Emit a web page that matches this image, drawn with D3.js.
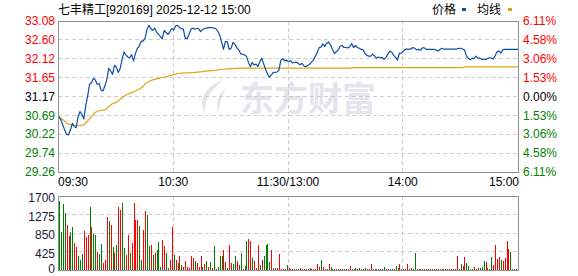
<!DOCTYPE html>
<html><head><meta charset="utf-8">
<script src="https://cdn.jsdelivr.net/npm/d3@7"></script>
<style>body{margin:0;background:#fff;}svg{display:block}</style>
</head><body><svg id="c" width="578" height="276"></svg>
<script>
const titleText = "七丰精工[920169] 2025-12-12 15:00";
const legendNames = ["价格", "均线"];
const watermarkText = "东方财富";
const preClose = 31.17;
const priceTicks = ["33.08","32.60","32.12","31.65","31.17","30.69","30.22","29.74","29.26"];
const pctTicks = ["6.11%","4.58%","3.06%","1.53%","0.00%","1.53%","3.06%","4.58%","6.11%"];
const volTicks = [1700, 1275, 850, 425, 0];
const timeLabels = ["09:30", "10:30", "11:30/13:00", "14:00", "15:00"];
const timeIdx = [0, 60, 120, 180, 240];

const prices = [
30.66,30.58,30.45,30.32,30.21,30.20,30.32,30.49,30.41,30.38,
30.66,30.79,30.72,30.60,30.94,31.18,31.48,31.52,31.63,31.59,
31.48,31.50,31.33,31.31,31.44,31.59,31.88,31.82,31.73,31.96,
31.91,31.78,31.88,32.11,32.30,32.22,32.17,32.15,32.23,32.07,
32.26,32.39,32.45,32.57,32.57,32.64,32.86,32.97,32.89,32.84,
32.90,32.80,32.74,32.69,32.63,32.84,32.79,32.74,32.81,32.89,
32.85,32.96,32.97,32.92,32.88,32.88,32.64,32.64,32.74,32.87,
32.90,32.87,32.89,32.89,32.81,32.86,32.89,32.90,32.91,32.91,
32.91,32.90,32.89,32.82,32.73,32.56,32.36,32.56,32.56,32.36,
32.39,32.54,32.49,32.40,32.35,32.25,32.24,32.22,32.19,32.04,
31.92,32.03,31.97,31.99,31.93,32.05,32.14,32.00,31.86,31.74,
31.66,31.71,31.78,31.78,31.79,31.84,32.09,32.13,32.07,32.09,
32.05,32.08,32.02,32.03,32.04,32.01,31.97,32.01,31.95,31.92,
31.96,31.98,32.04,32.09,32.19,32.28,32.41,32.42,32.50,32.44,
32.52,32.55,32.47,32.36,32.26,32.30,32.35,32.44,32.46,32.41,
32.41,32.40,32.43,32.51,32.41,32.46,32.41,32.39,32.36,32.35,
32.26,32.21,32.19,32.19,32.24,32.19,32.14,32.17,32.15,32.16,
32.11,32.16,32.25,32.32,32.29,32.21,32.16,32.09,32.27,32.26,
32.31,32.36,32.37,32.37,32.37,32.41,32.39,32.35,32.36,32.34,
32.40,32.40,32.36,32.36,32.36,32.36,32.36,32.35,32.32,32.35,
32.39,32.37,32.37,32.37,32.37,32.37,32.37,32.37,32.37,32.39,
32.39,32.37,32.35,32.20,32.13,32.10,32.14,32.13,32.19,32.14,
32.14,32.11,32.12,32.10,32.13,32.15,32.14,32.12,32.20,32.30,
32.32,32.27,32.35,32.36,32.36,32.36,32.36,32.36,32.36,32.36,
32.36];

const avgIdx  = [0,5,10,13,16,19,21,24,26,28,30,31,33,35,37,40,42,44,45,47,49,52,54,56,59,61,64,68,71,75,78,82,85,89,92,96,153,154,211,212,239,240];
const avgVals = [30.66,30.47,30.43,30.45,30.60,30.77,30.81,30.83,30.91,30.99,31.02,31.06,31.14,31.21,31.25,31.31,31.36,31.42,31.49,31.55,31.59,31.63,31.65,31.67,31.71,31.74,31.76,31.77,31.78,31.80,31.82,31.83,31.86,31.87,31.88,31.89,31.89,31.90,31.90,31.92,31.92,31.93];

const volumes = [
1584,873,1507,1298,1043,788,873,981,618,518,
332,232,371,889,750,811,1445,981,835,811,
425,371,603,155,232,1213,1120,1028,518,386,
580,1445,1368,1530,502,348,811,386,618,1530,
1159,1159,1005,232,912,1352,1275,541,580,348,
386,448,641,77,695,541,386,39,232,981,
348,232,170,325,116,77,209,77,39,332,
286,209,155,77,332,77,131,209,77,178,
39,556,23,62,325,325,456,178,54,564,
155,147,325,209,116,402,23,100,672,719,
672,286,209,54,580,116,224,332,580,603,
193,464,39,54,54,371,23,23,23,116,
39,20,18,15,20,22,46,18,20,15,
18,46,20,22,18,139,70,232,70,20,
15,139,70,22,18,20,15,25,20,18,
22,20,85,30,25,40,20,45,20,30,
45,20,15,139,20,15,18,20,25,15,
70,20,18,15,22,30,100,55,139,20,
15,18,139,20,40,25,394,20,18,15,
20,18,22,20,15,18,20,22,18,15,
20,18,22,20,15,18,20,20,325,20,
139,93,301,162,93,25,22,70,20,40,
55,70,209,185,40,20,301,116,580,255,
301,232,209,278,672,487,417,20,15,18,
626];
// r = up minute (red), g = down minute (green)
const volDir = [
"ggggrrggrr","gggrrrgrgg","rggrrrgrgr","grrggrrgrr",
"rrggrrggrg","rgggrrgrrr","grgrgrrrrr","rgrrrgrgrg",
"rgrgggrrgr","rggrrgrggr","rgrrrgrggg","grrgrrrrrg",
"rrrgrgrggr","grrgrrrgrr","grggrgrgrg","rrrgrgrgrg",
"grrrgrgrgr","grrgrgggrr","grrgrggrgr","grgrgrgrgr",
"grrgrrgrrg","grrgggrrgr","gggrrggrrr","rgrrrrggrg","r"].join("").split("");

const svg = d3.select("#c");
const L = 58, R = 519, PT = 21, PB = 172, VT = 196, VB = 270;
const x = d3.scaleLinear().domain([-0.5, 240.5]).range([L, R]);
const y = d3.scaleLinear().domain([29.26, 33.08]).range([PB, PT]);
const yv = d3.scaleLinear().domain([0, 1700]).range([VB, VT]);
const numFont = "'Liberation Sans', Arial, sans-serif";
const cjkFont = "'Liberation Sans', 'Noto Sans CJK SC', sans-serif";
const crisp = v => Math.floor(v) + 0.5;

// watermark
const wm = svg.append("g").attr("fill", "#e4e4ea");
wm.append("path").attr("d", "M223,80 C206,86 196,100 206,114 C203,103 209,92 223,80 Z");
wm.append("path").attr("d", "M226,88 C218,95 215,104 219,113 C219,104 222,96 226,88 Z");
wm.append("text").attr("x", 240).attr("y", 111).attr("font-family", "'Noto Sans CJK SC', sans-serif")
  .attr("font-size", 34).attr("font-weight", "bold").text(watermarkText);

// title & legend
svg.append("text").attr("x", 58).attr("y", 14).attr("font-family", cjkFont).attr("font-size", 12)
  .attr("fill", "#000").text(titleText);
const leg = [[432, 462, "#0d4ea6"], [477, 508, "#e2a31a"]];
leg.forEach((d, k) => {
  svg.append("text").attr("x", d[0]).attr("y", 14).attr("font-family", cjkFont).attr("font-size", 12).text(legendNames[k]);
  svg.append("rect").attr("x", d[1]).attr("y", 8).attr("width", 4).attr("height", 3).attr("fill", d[2]);
});

// grids
const grid = svg.append("g").attr("stroke", "#cccccc").attr("stroke-dasharray", "4,3").attr("shape-rendering", "crispEdges");
priceTicks.slice(1, -1).forEach(t => {
  grid.append("line").attr("x1", L).attr("x2", R).attr("y1", crisp(y(+t))).attr("y2", crisp(y(+t)));
});
volTicks.slice(1, -1).forEach(t => {
  grid.append("line").attr("x1", L).attr("x2", R).attr("y1", crisp(yv(t))).attr("y2", crisp(yv(t)));
});
timeIdx.slice(1, -1).forEach(i => {
  const xv = crisp(x(i) - 0.5);
  grid.append("line").attr("x1", xv).attr("x2", xv).attr("y1", PT).attr("y2", PB);
  grid.append("line").attr("x1", xv).attr("x2", xv).attr("y1", VT).attr("y2", VB);
});

// volume bars
svg.append("g").attr("shape-rendering", "crispEdges").selectAll("rect").data(volumes).join("rect")
  .attr("x", (d, i) => Math.round(x(i)))
  .attr("width", 1)
  .attr("y", d => yv(d))
  .attr("height", d => VB - yv(d))
  .attr("fill", (d, i) => volDir[i] === "r" ? "#ff0000" : "#008000");

// lines
const avgData = avgIdx.map((i, k) => [i, avgVals[k]]);
svg.append("path").datum(avgData).attr("fill", "none").attr("stroke", "#e2a31a").attr("stroke-width", 1.2)
  .attr("d", d3.line().x(d => x(d[0])).y(d => y(d[1])));
svg.append("path").datum(prices).attr("fill", "none").attr("stroke", "#0d4ea6").attr("stroke-width", 1.2)
  .attr("stroke-linejoin", "round")
  .attr("d", d3.line().x((d, i) => x(i)).y(d => y(d)));

// frames
[[PT, PB], [VT, VB]].forEach(([t, b]) => {
  svg.append("rect").attr("x", L + 0.5).attr("y", t + 0.5).attr("width", R - L - 1).attr("height", b - t)
    .attr("fill", "none").attr("stroke", "#8f8f8f").attr("stroke-width", 1).attr("shape-rendering", "crispEdges");
});

// axes labels
const colorFor = k => k < 4 ? "#ff0000" : (k === 4 ? "#000000" : "#008000");
priceTicks.forEach((t, k) => {
  svg.append("text").attr("x", 55).attr("y", y(+t)).attr("dy", "0.35em").attr("text-anchor", "end")
    .attr("font-family", numFont).attr("font-size", 12).attr("fill", colorFor(k)).text(t);
  svg.append("text").attr("x", 523).attr("y", y(+t)).attr("dy", "0.35em")
    .attr("font-family", numFont).attr("font-size", 12).attr("fill", colorFor(k)).text(pctTicks[k]);
});
volTicks.forEach(t => {
  svg.append("text").attr("x", 55).attr("y", Math.min(yv(t) + 2, 269)).attr("dy", "0.35em").attr("text-anchor", "end")
    .attr("font-family", numFont).attr("font-size", 12).attr("fill", "#1c1c3c").text(t);
});
timeLabels.forEach((t, k) => {
  const i = timeIdx[k];
  const anchor = k === 0 ? "start" : (k === timeLabels.length - 1 ? "end" : "middle");
  const xv = k === 0 ? L : (k === timeLabels.length - 1 ? R : x(i) - 0.5);
  svg.append("text").attr("x", xv).attr("y", 182).attr("dy", "0.35em").attr("text-anchor", anchor)
    .attr("font-family", numFont).attr("font-size", 12).attr("fill", "#000").text(t);
});
</script></body></html>
